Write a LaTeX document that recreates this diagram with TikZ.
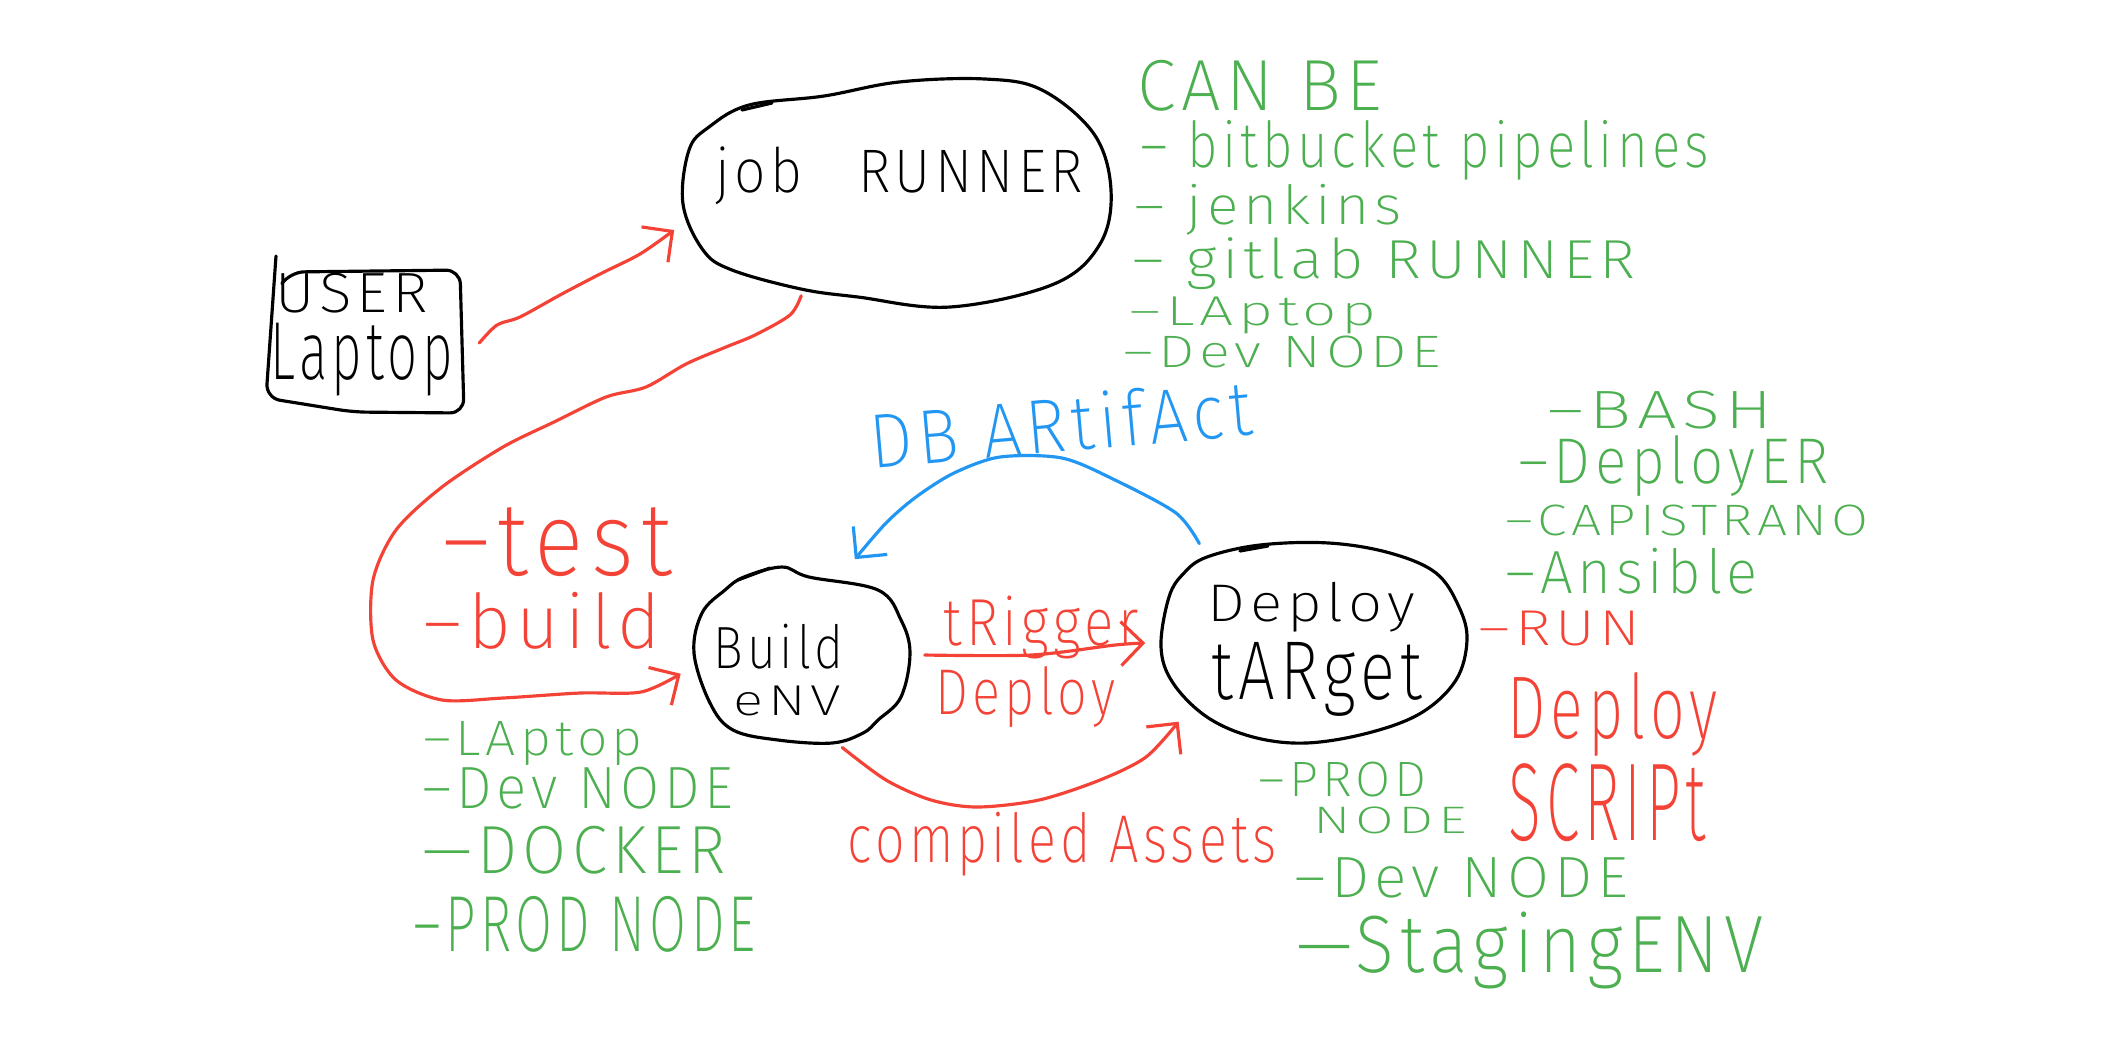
\documentclass[tikz,border=0pt]{standalone}
\usepackage{fontspec}
\setmainfont{Fira Sans}[UprightFont={* ExtraLight}, LetterSpace=8]
\usetikzlibrary{arrows.meta,shapes.geometric}
\definecolor{hgreen}{HTML}{4CAF50}
\definecolor{hred}{HTML}{F44336}
\definecolor{hblue}{HTML}{2196F3}
% fit text into a box of width #1 cm and total height #2 cm
\newcommand\hx[3]{\resizebox*{#1cm}{#2cm}{#3}}
\begin{document}
\begin{tikzpicture}[x=0.01cm,y=-0.01cm,
  hand/.style={line width=0.9pt, line cap=round, line join=round},
  arr/.style={hand, -{Straight Barb[length=2.2mm,width=4.4mm]}},
  txt/.style={inner sep=0pt, anchor=south west},
  blob/.style={ellipse, inner sep=0pt, draw=none},
]
\useasboundingbox[fill=white] (0,0) rectangle (2109,1038);

% ---------- main shapes ----------
\node[blob, minimum width=4.28cm, minimum height=2.28cm] (jr) at (897,193) {};
\draw[hand] plot[smooth cycle, tension=0.6] coordinates {(683,204) (689,150) (709,127) (749,105) (824,96) (899,82) (985,79) (1042,90) (1094,134) (1111,190) (1100,244) (1054,284) (950,307) (858,297) (801,289) (732,270) (703,250)};
\draw[hand] (742,110) -- (772,103);
\node[txt] (jrt) at (715,205) {\hx{3.67}{0.58}{job\quad RUNNER}};

\node[rectangle, minimum width=1.95cm, minimum height=1.5cm, inner sep=0pt] (ul) at (366,335) {};
\draw[hand, rounded corners=4pt] (276,256) -- (266,398) -- (353,412) -- (464,413) -- (460,270) -- (290,272) -- (283,282);
\node[txt] (ult1) at (275,314) {\hx{1.52}{0.40}{USER}};
\node[txt] (ult2) at (270,397) {\hx{1.82}{0.73}{Laptop}};

\node[blob, minimum width=2.16cm, minimum height=1.76cm] (be) at (802,655) {};
\draw[hand] plot[smooth cycle, tension=0.6] coordinates {(744,577) (782,567) (809,577) (878,590) (901,620) (910,653) (901,697) (878,720) (863,733) (832,743) (778,740) (733,730) (710,703) (694,653) (702,613) (725,590)};
\draw[hand] (738,580) -- (770,568);
\node[txt] (bet1) at (713,670) {\hx{1.30}{0.45}{Build}};
\node[txt] (bet2) at (733,717) {\hx{1.07}{0.30}{eNV}};

\node[blob, minimum width=3.06cm, minimum height=2.0cm] (dt) at (1314,643) {};
\draw[hand] plot[smooth cycle, tension=0.6] coordinates {(1207,557) (1260,545) (1329,543) (1390,553) (1436,573) (1459,607) (1467,640) (1456,680) (1421,713) (1368,733) (1306,743) (1253,737) (1207,717) (1173,683) (1161,647) (1169,597) (1184,573)};
\draw[hand] (1240,551) -- (1268,546);
\node[txt] (dtt1) at (1207,633) {\hx{2.07}{0.50}{Deploy}};
\node[txt] (dtt2) at (1211,717) {\hx{2.10}{0.74}{tARget}};

% ---------- connectors ----------
\draw[arr, hred] plot[smooth] coordinates {([xshift=0.15cm,yshift=-0.08cm]ul.east) (497,325) (520,317) (560,295) (600,274) (640,254) ([xshift=-0.08cm,yshift=-0.37cm]jr.west)};
\draw[arr, hred] plot[smooth] coordinates {(jr.227) (790,315) (755,335) (726,347) (686,364) (646,387) (606,397) (554,422) (503,447) (442,487) (396,530) (373,580) (373,640) (396,680) (442,700) (503,698) (580,693) (641,692) ([xshift=-0.15cm]be.190)};
\draw[arr, hblue] plot[smooth] coordinates {([xshift=-0.2cm,yshift=0.2cm]dt.140) (1176,513) (1115,480) (1062,458) (1000,457) (954,473) (916,497) (886,523) ([xshift=0.08cm,yshift=0.15cm]be.61)};
\draw[arr, hred] plot[smooth] coordinates {([xshift=0.14cm]be.east) (1031,655) (1115,645) ([xshift=-0.15cm]dt.west)};
\draw[arr, hred] plot[smooth] coordinates {([yshift=-0.1cm]be.296) (886,780) (931,800) (977,807) (1039,800) (1100,780) (1146,757) ([xshift=-0.2cm,yshift=-0.12cm]dt.210)};

% ---------- red labels ----------
\node[txt, hred] (l-test) at (442,577) {\hx{2.29}{0.69}{–test}};
\node[txt, hred] (l-build) at (423,650) {\hx{2.37}{0.57}{–build}};
\node[txt, hred] (l-trig) at (943,660) {\hx{1.95}{0.63}{tRigger}};
\node[txt, hred] (l-dep) at (935,728) {\hx{1.80}{0.61}{Deploy}};
\node[txt, hred] (l-comp) at (847,877) {\hx{4.29}{0.64}{compiled Assets}};
\node[txt, hred] (l-run) at (1478,647) {\hx{1.62}{0.35}{–RUN}};
\node[txt, hred] (l-dep2) at (1507,757) {\hx{2.10}{0.84}{Deploy}};
\node[txt, hred] (l-scr) at (1508,842) {\hx{1.97}{0.78}{SCRIPt}};

% ---------- blue label ----------
\node[txt, hblue, rotate=5] (l-db) at (872,470) {\hx{3.83}{0.58}{DB ARtifAct}};

% ---------- green lists ----------
\node[txt, hgreen] (g1) at (1137,112) {\hx{2.44}{0.51}{CAN BE}};
\node[txt, hgreen] (g2) at (1140,181) {\hx{5.68}{0.60}{– bitbucket pipelines}};
\node[txt, hgreen] (g3) at (1134,236) {\hx{2.67}{0.51}{– jenkins}};
\node[txt, hgreen] (g4) at (1132,290) {\hx{5.02}{0.52}{– gitlab RUNNER}};
\node[txt, hgreen] (g5) at (1129,335) {\hx{2.47}{0.37}{–LAptop}};
\node[txt, hgreen] (g6) at (1123,369) {\hx{3.17}{0.32}{–Dev NODE}};

\node[txt, hgreen] (r1) at (1547,430) {\hx{2.25}{0.38}{–BASH}};
\node[txt, hgreen] (r2) at (1518,497) {\hx{3.10}{0.61}{–DeployER}};
\node[txt, hgreen] (r3) at (1505,537) {\hx{3.63}{0.31}{–CAPISTRANO}};
\node[txt, hgreen] (r4) at (1505,595) {\hx{2.52}{0.46}{–Ansible}};

\node[txt, hgreen] (b1) at (423,766) {\hx{2.19}{0.44}{–LAptop}};
\node[txt, hgreen] (b2) at (422,810) {\hx{3.10}{0.42}{–Dev NODE}};
\node[txt, hgreen] (b3) at (422,875) {\hx{3.03}{0.48}{—DOCKER}};
\node[txt, hgreen] (b4) at (413,953) {\hx{3.42}{0.56}{–PROD NODE}};

\node[txt, hgreen] (d1) at (1258,798) {\hx{1.68}{0.35}{–PROD}};
\node[txt, hgreen] (d2) at (1313,835) {\hx{1.53}{0.27}{NODE}};
\node[txt, hgreen] (d3) at (1294,899) {\hx{3.33}{0.41}{–Dev NODE}};
\node[txt, hgreen] (d4) at (1296,990) {\hx{4.67}{0.77}{—StagingENV}};
\end{tikzpicture}
\end{document}
